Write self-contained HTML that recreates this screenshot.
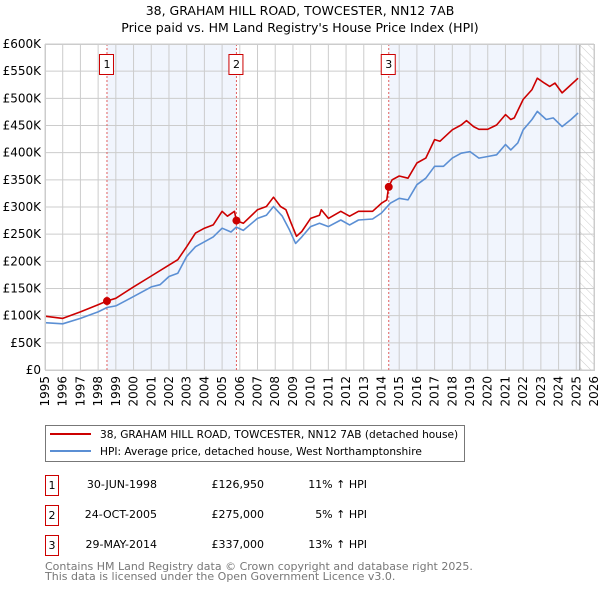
<!DOCTYPE html>
<html><head><meta charset="utf-8"><style>
body{margin:0;background:#fff;font-family:"DejaVu Sans","Liberation Sans",sans-serif;}
svg text{font-family:"DejaVu Sans","Liberation Sans",sans-serif;}
</style></head><body>
<svg id="c" width="600" height="590" xmlns="http://www.w3.org/2000/svg">
<defs><pattern id="hatch" width="6" height="6" patternUnits="userSpaceOnUse" patternTransform="rotate(-45)"><line x1="0" y1="0" x2="0" y2="6" stroke="#ccc" stroke-width="1"/></pattern></defs>
<text x="300" y="15" text-anchor="middle" font-size="12.5">38, GRAHAM HILL ROAD, TOWCESTER, NN12 7AB</text>
<text x="300" y="32" text-anchor="middle" font-size="12.5">Price paid vs. HM Land Registry's House Price Index (HPI)</text>
<g id="plot"></g>
<g>
<rect x="45.5" y="425.5" width="419" height="36" fill="#fff" stroke="#777"/>
<line x1="50" y1="434" x2="91" y2="434" stroke="#cc0000" stroke-width="2"/>
<text x="100" y="438" font-size="10.6">38, GRAHAM HILL ROAD, TOWCESTER, NN12 7AB (detached house)</text>
<line x1="50" y1="451" x2="91" y2="451" stroke="#5b8fd4" stroke-width="2"/>
<text x="100" y="455" font-size="10.6">HPI: Average price, detached house, West Northamptonshire</text>
</g>
<g font-size="11">
<rect x="45.5" y="475.5" width="13" height="20" fill="#fff" stroke="#cc0000"/><text x="52" y="489" text-anchor="middle">1</text>
<text x="157" y="488" text-anchor="end">30-JUN-1998</text><text x="264" y="488" text-anchor="end">£126,950</text><text x="367" y="488" text-anchor="end">11% ↑ HPI</text>
<rect x="45.5" y="505.5" width="13" height="20" fill="#fff" stroke="#cc0000"/><text x="52" y="519" text-anchor="middle">2</text>
<text x="157" y="518" text-anchor="end">24-OCT-2005</text><text x="264" y="518" text-anchor="end">£275,000</text><text x="367" y="518" text-anchor="end">5% ↑ HPI</text>
<rect x="45.5" y="535.5" width="13" height="20" fill="#fff" stroke="#cc0000"/><text x="52" y="549" text-anchor="middle">3</text>
<text x="157" y="548" text-anchor="end">29-MAY-2014</text><text x="264" y="548" text-anchor="end">£337,000</text><text x="367" y="548" text-anchor="end">13% ↑ HPI</text>
</g>
<text x="45" y="570" font-size="11" fill="#777">Contains HM Land Registry data © Crown copyright and database right 2025.</text>
<text x="45" y="580" font-size="11" fill="#777">This data is licensed under the Open Government Licence v3.0.</text>
</svg>
<script>
const hpiYears=[1995,1996,1997,1998,1998.5,1999,2000,2001,2001.5,2002,2002.5,2003,2003.5,2004,2004.5,2005,2005.5,2005.8,2006.2,2007,2007.5,2007.9,2008.4,2008.8,2009.15,2009.5,2010,2010.5,2011,2011.7,2012.2,2012.7,2013.5,2014,2014.5,2015,2015.5,2016,2016.5,2017,2017.5,2018,2018.5,2019,2019.5,2020,2020.5,2021,2021.3,2021.7,2022,2022.5,2022.8,2023.3,2023.7,2024.2,2024.7,2025.1];
const hpiValues=[87,85,95,107,115,118,135,153,157,172,178,209,227,236,245,261,254,263,257,279,285,301,283,258,233,245,264,270,264,276,267,276,278,289,307,316,313,341,353,375,375,390,399,402,390,393,396,415,405,418,442,461,476,461,464,448,461,473];
const propYears=[1995,1996,1997,1998,1998.5,1999,2000,2001,2002,2002.5,2003,2003.5,2004,2004.5,2005,2005.3,2005.7,2005.8,2006.2,2007,2007.5,2007.9,2008.3,2008.6,2008.9,2009.2,2009.5,2010,2010.5,2010.6,2011,2011.7,2012.2,2012.7,2013.5,2014,2014.3,2014.4,2014.6,2015,2015.5,2016,2016.5,2017,2017.3,2018,2018.5,2018.8,2019.2,2019.5,2020,2020.5,2021,2021.3,2021.5,2022,2022.5,2022.8,2023.2,2023.5,2023.8,2024.2,2024.6,2025.1];
const propValues=[99,95,107,120,126.95,132,153,173,193,203,227,252,261,267,292,283,292,275,270,295,301,318,301,295,270,246,255,279,285,295,279,292,283,292,292,307,313,337,350,357,353,381,390,424,421,442,451,459,448,443,443,451,470,461,464,498,516,537,528,522,528,510,522,537];
const saleYears=[1998.5,2005.81,2014.41];
const saleValues=[126.95,275,337];
const saleLabels=["1","2","3"];
const yTicks=[0,50,100,150,200,250,300,350,400,450,500,550,600];
const xTicks=[1995,1996,1997,1998,1999,2000,2001,2002,2003,2004,2005,2006,2007,2008,2009,2010,2011,2012,2013,2014,2015,2016,2017,2018,2019,2020,2021,2022,2023,2024,2025,2026];
const X0=45,X1=594,Y0=370,Y1=44,YMIN=1995,YMAX=2026;
const sx=v=>X0+(v-YMIN)/(YMAX-YMIN)*(X1-X0);
const sy=v=>Y0-v/600*(Y0-Y1);
const NS="http://www.w3.org/2000/svg";
const g=document.getElementById('plot');
function mk(t,a,p){const e=document.createElementNS(NS,t);for(const k in a)e.setAttribute(k,a[k]);(p||g).appendChild(e);return e;}
let r=mk('rect',{x:X0,y:Y1,width:X1-X0,height:Y0-Y1,fill:'#fff'});

r=mk('rect',{x:sx(saleYears[0]),y:Y1,width:sx(saleYears[1])-sx(saleYears[0]),height:Y0-Y1,fill:'#eef3fc',opacity:0.8});

r=mk('rect',{x:sx(saleYears[2]),y:Y1,width:sx(2025.2)-sx(saleYears[2]),height:Y0-Y1,fill:'#eef3fc',opacity:0.8});

r=mk('rect',{x:sx(2025.2),y:Y1,width:X1-sx(2025.2),height:Y0-Y1,fill:'url(#hatch)'});

xTicks.forEach(t=>{const l=mk('line',{x1:sx(t),x2:sx(t),y1:Y1,y2:Y0,stroke:'#ccc'});

const tx=mk('text',{x:0,y:0,'font-size':12,'text-anchor':'end',transform:`translate(${sx(t)+4},${Y0+6}) rotate(-90)`});tx.textContent=t;
});
yTicks.forEach(t=>{const l=mk('line',{x1:X0,x2:X1,y1:sy(t),y2:sy(t),stroke:'#ccc'});

const tx=mk('text',{x:X0-4,y:sy(t)+4,'font-size':12,'text-anchor':'end'});tx.textContent=t===0?'£0':'£'+t+'K';
});
const vl=mk('line',{x1:sx(2025.2),x2:sx(2025.2),y1:Y1,y2:Y0,stroke:'#999'});

saleYears.forEach((s,i)=>{const l=mk('line',{x1:sx(s),x2:sx(s),y1:Y1,y2:Y0,stroke:'#e06060','stroke-dasharray':'2,2'});
});
function path(xs,ys,c,name){let d='';xs.forEach((x,i)=>{d+=(i?'L':'M')+sx(x).toFixed(1)+','+sy(ys[i]).toFixed(1);});
const p=mk('path',{d:d,fill:'none',stroke:c,'stroke-width':1.6,'stroke-linejoin':'round'});
}
path(hpiYears,hpiValues,'#5b8fd4','hpi-line');
path(propYears,propValues,'#cc0000','property-line');
saleYears.forEach((s,i)=>{const c=mk('circle',{cx:sx(s),cy:sy(saleValues[i]),r:4,fill:'#cc0000'});

const b=mk('rect',{x:sx(s)-7.5,y:54.5,width:14,height:20,fill:'#fff',stroke:'#cc0000'});

const t=mk('text',{x:sx(s),y:68,'font-size':11,'text-anchor':'middle'});t.textContent=saleLabels[i];
});
const bd=mk('rect',{x:X0+0.5,y:Y1+0.5,width:X1-X0,height:Y0-Y1,fill:'none',stroke:'#ccc'});

</script>
</body></html>
